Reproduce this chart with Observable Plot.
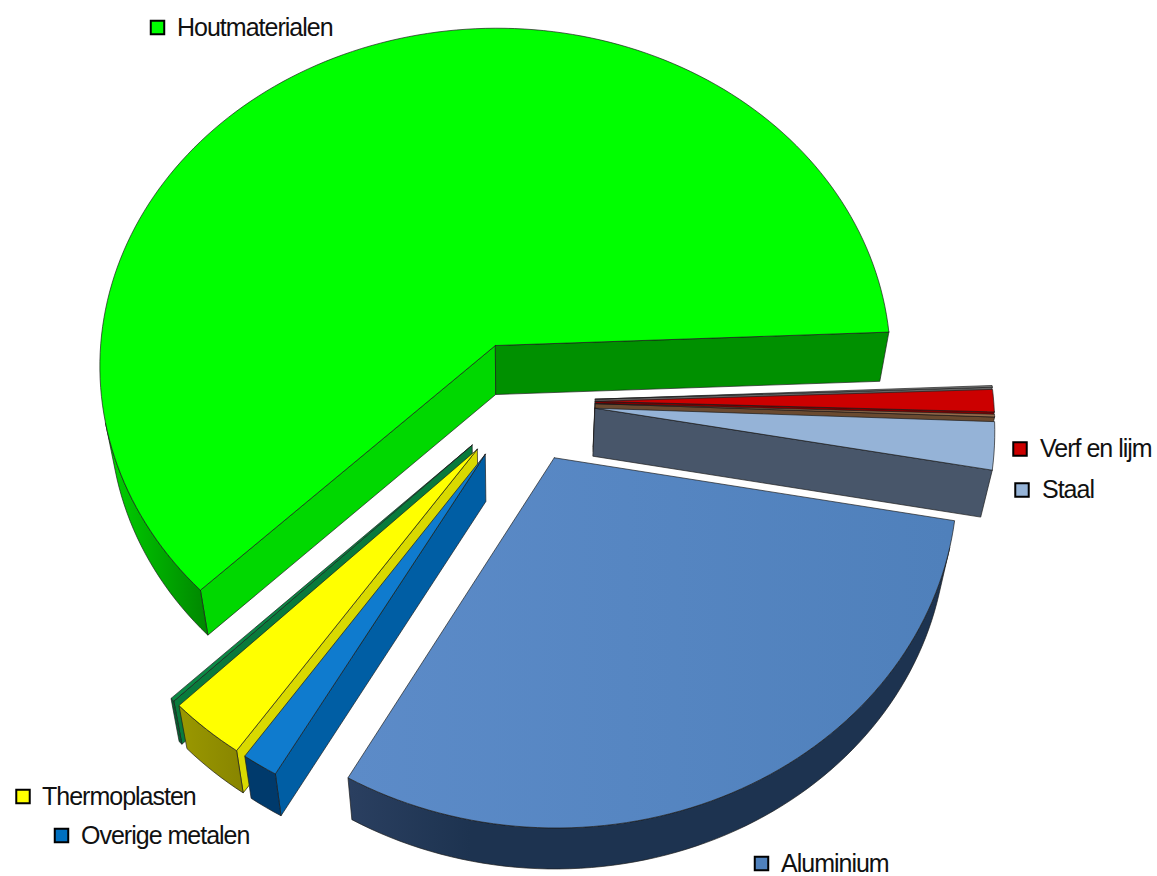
<!DOCTYPE html>
<html><head><meta charset="utf-8">
<style>html,body{margin:0;padding:0;background:#fff}svg{display:block}</style>
<script src="https://cdn.jsdelivr.net/npm/d3@7"></script>
<script src="https://cdn.jsdelivr.net/npm/@observablehq/plot@0.6"></script>
</head><body><div id="chart"></div>
<script>
// Slice shares in percent, in order round the pie
const categories = ["", "Verf en lijm", "", "Staal", "Aluminium", "Overige metalen", "Thermoplasten", "", "Houtmaterialen"];
const shares = [0.08, 1.05, 0.13, 2.24, 30.3, 1.39, 2.95, 0.16, 61.7];
const topColors = ["#808080", "#cc0000", "#946a4a", "#95b3d7", "url(#aluTop)", "#0f7bce", "#ffff00", "#0b8a45", "#00ff00"];
const startCutColors = ["#666666", "#800000", "#6a4a30", "#48566a", "#33496d", "#005ea4", "#d9d900", "#097a3c", "#00d800"];
const endCutColors = ["#666666", "#800000", "#6a4a30", "#48566a", "#33496d", "#005ea4", "#d9d900", "#097a3c", "#009000"];
const outerColors = ["#555555", "#800000", "#6a4a30", "#48566a", "url(#aluWall)", "#003a6c", "url(#yelWall)", "#076032", "url(#greenWall)"];
const drawOrder = [8, 0, 1, 2, 3, 7, 6, 5, 4];

// Labelled legend entries (swatch centre, label start)
const legendNames = ["Houtmaterialen", "Verf en lijm", "Staal", "Thermoplasten", "Overige metalen", "Aluminium"];
const legendFill = ["#00ff00", "#cc0000", "#95b3d7", "#ffff00", "#0070c0", "#4f81bd"];
const legendSwatchX = [157, 1019.5, 1021.5, 22.5, 61, 761];
const legendY = [27, 448.5, 489.5, 796, 835, 863];
const legendTextX = [176.5, 1039.5, 1041.5, 41.5, 80.5, 780.5];

// Camera for the tilted, exploded pie
const cam = {cx: 523, cy: 401, A: 398.5, B: 342, k: 0.058, explode: 0.18, start: -2.3,
             vx: 510, vy: 3297, sx: 0.976, sy: 0.9834};
const project = (U, V) => {
  const w = 1 - cam.k * V;
  return {x: cam.cx + cam.A * U / w, y: cam.cy + cam.B * V / w};
};
const extrude = p => ({x: cam.vx + cam.sx * (p.x - cam.vx), y: cam.vy + cam.sy * (p.y - cam.vy)});

const total = d3.sum(shares);
let cursor = cam.start;
const slices = shares.map((s, i) => {
  const a0 = cursor, a1 = cursor + s / total * 360;
  cursor = a1;
  const mid = (a0 + a1) / 2 * Math.PI / 180;
  const ox = cam.explode * Math.cos(mid), oy = cam.explode * Math.sin(mid);
  const n = Math.max(2, Math.ceil((a1 - a0) / 1.5));
  const arc = d3.range(n + 1).map(j => {
    const t = (a0 + (a1 - a0) * j / n) * Math.PI / 180;
    return project(ox + Math.cos(t), oy + Math.sin(t));
  });
  return {i, a0, a1, apex: project(ox, oy), arc};
});

const facing = (a, b) => {
  const nx = b.y - a.y, ny = -(b.x - a.x);
  const ea = extrude(a);
  return nx * (ea.x - a.x) + ny * (ea.y - a.y) > 0;
};
const quad = (a, b) => [a, b, extrude(b), extrude(a), a];
const edge = {stroke: "#1a1a1a", strokeWidth: 0.8, strokeOpacity: 0.85, strokeLinejoin: "round", curve: "linear"};
const face = (pts, fill) => Plot.line(pts, {x: "x", y: "y", fill, ...edge});

const marks = [];
const defs = () => {
  const ns = "http://www.w3.org/2000/svg";
  const d = document.createElementNS(ns, "defs");
  const grads = {
    aluTop: [[350, "#5c8bc8"], [950, "#4f80bb"]],
    aluWall: [[350, "#2a3f60"], [470, "#1d3350"], [950, "#1d3350"]],
    yelWall: [[180, "#9a9800"], [245, "#878400"]],
    greenWall: [[110, "#00d000"], [205, "#008800"]]
  };
  for (const [id, stops] of Object.entries(grads)) {
    const g = document.createElementNS(ns, "linearGradient");
    g.setAttribute("id", id);
    g.setAttribute("gradientUnits", "userSpaceOnUse");
    g.setAttribute("x1", stops[0][0]); g.setAttribute("x2", stops[stops.length - 1][0]);
    g.setAttribute("y1", 0); g.setAttribute("y2", 0);
    for (const [x, c] of stops) {
      const s = document.createElementNS(ns, "stop");
      s.setAttribute("offset", (x - stops[0][0]) / (stops[stops.length - 1][0] - stops[0][0]));
      s.setAttribute("stop-color", c);
      g.appendChild(s);
    }
    d.appendChild(g);
  }
  return d;
};
marks.push(defs);

for (const i of drawOrder) {
  const s = slices[i];
  const first = s.arc[0], last = s.arc[s.arc.length - 1];
  if (facing(s.apex, first)) marks.push(face(quad(s.apex, first), startCutColors[s.i]));
  if (facing(last, s.apex)) marks.push(face(quad(last, s.apex), endCutColors[s.i]));
  // outer wall: keep only the arc run that faces the viewer
  const run = s.arc.filter((p, j) =>
    (j > 0 && facing(s.arc[j - 1], p)) || (j < s.arc.length - 1 && facing(p, s.arc[j + 1])));
  if (run.length > 1) {
    const wall = [...run, ...run.slice().reverse().map(extrude), run[0]];
    marks.push(face(wall, outerColors[s.i]));
  }
  marks.push(face([s.apex, ...s.arc, s.apex], topColors[s.i]));
}

const legend = legendNames.map((name, i) => ({name, fill: legendFill[i], sx: legendSwatchX[i], tx: legendTextX[i], y: legendY[i]}));
marks.push(Plot.dot(legend, {x: "sx", y: "y", fill: "fill", symbol: "square", r: 7.6, stroke: "#000", strokeWidth: 2}));
marks.push(Plot.text(legend, {x: "tx", y: "y", text: "name", textAnchor: "start", lineAnchor: "middle", fontSize: 25, fill: "#111"}));

document.getElementById("chart").append(Plot.plot({
  width: 1157, height: 876, margin: 0,
  x: {domain: [0, 1157], range: [0, 1157], axis: null},
  y: {domain: [0, 876], range: [0, 876], axis: null},
  style: {fontFamily: "'Liberation Sans', Arial, sans-serif", letterSpacing: "-1px", background: "#fff"},
  marks
}));
</script></body></html>
